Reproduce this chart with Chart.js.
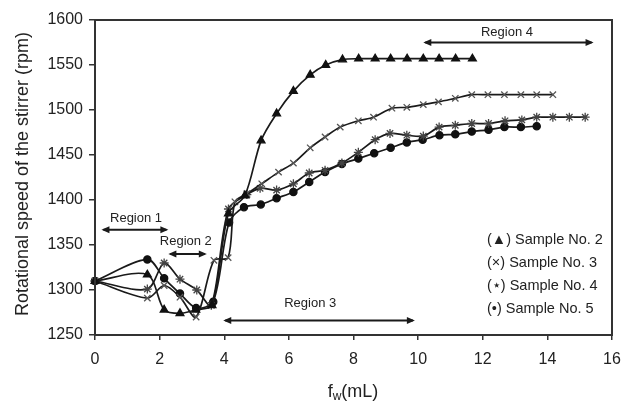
<!DOCTYPE html>
<html>
<head>
<meta charset="utf-8">
<script src="https://cdn.jsdelivr.net/npm/chart.js@4.4.1/dist/chart.umd.min.js"></script>
<style>
  html, body { margin: 0; padding: 0; background: #fff; }
  #chart-container { width: 626px; height: 411px; }
</style>
</head>
<body>
<div id="chart-container"><canvas id="stirrerChart" width="626" height="411"></canvas></div>
<script>
// Sample No. 2 (triangles)
const xNo2 = [0, 1.62, 2.14, 2.63, 3.12, 3.62, 4.13, 4.64, 5.14, 5.62, 6.14, 6.66, 7.14, 7.66, 8.16, 8.67, 9.15, 9.66, 10.16, 10.65, 11.16, 11.68];
const yNo2 = [1310, 1317, 1278, 1274, 1278, 1283, 1385, 1405, 1466, 1496, 1521, 1539, 1550, 1556, 1557, 1557, 1557, 1557, 1557, 1557, 1557, 1557];

// Sample No. 3 (crosses)
const xNo3 = [0, 1.62, 2.14, 2.63, 3.13, 3.68, 4.12, 4.33, 4.7, 5.16, 5.68, 6.14, 6.66, 7.12, 7.59, 8.15, 8.62, 9.19, 9.65, 10.16, 10.63, 11.15, 11.66, 12.16, 12.67, 13.18, 13.67, 14.17];
const yNo3 = [1310, 1291, 1305, 1292, 1270, 1333, 1336, 1398, 1407, 1418, 1431, 1441, 1458, 1470, 1481, 1488, 1492, 1502, 1503, 1506, 1509, 1513, 1517, 1517, 1517, 1517, 1517, 1517];

// Sample No. 4 (stars)
const xNo4 = [0, 1.62, 2.14, 2.63, 3.15, 3.6, 4.13, 4.7, 5.11, 5.62, 6.14, 6.63, 7.12, 7.64, 8.15, 8.67, 9.13, 9.65, 10.16, 10.65, 11.15, 11.66, 12.18, 12.69, 13.21, 13.67, 14.17, 14.68, 15.17];
const yNo4 = [1310, 1301, 1330, 1312, 1300, 1283, 1390, 1406, 1413, 1411, 1418, 1430, 1433, 1441, 1453, 1467, 1474, 1472, 1471, 1481, 1483, 1485, 1485, 1488, 1489, 1492, 1492, 1492, 1492];

// Sample No. 5 (circles)
const xNo5 = [0, 1.62, 2.14, 2.63, 3.13, 3.66, 4.15, 4.61, 5.13, 5.62, 6.14, 6.63, 7.12, 7.64, 8.15, 8.64, 9.15, 9.65, 10.14, 10.66, 11.15, 11.66, 12.18, 12.67, 13.18, 13.67];
const yNo5 = [1310, 1334, 1313, 1296, 1280, 1287, 1375, 1392, 1395, 1402, 1409, 1420, 1431, 1440, 1446, 1452, 1458, 1464, 1467, 1472, 1473, 1476, 1478, 1481, 1481, 1482];

// Region arrows: [label, xStart, xEnd, arrowY, labelX, labelY]
const regions = [
    ["Region 1", 0.2, 2.27, 1367, 1.27, 1380],
    ["Region 2", 2.27, 3.46, 1340, 2.81, 1354],
    ["Region 3", 3.97, 9.9, 1266, 6.66, 1285],
    ["Region 4", 10.16, 15.43, 1575, 12.75, 1586]
];

const legendLabels = ["(\u25B2) Sample No. 2", "(\u00D7) Sample No. 3", "(\u22C6) Sample No. 4", "(\u2022) Sample No. 5"];

const FONT = "'Liberation Sans', Arial, sans-serif";
const INK = "#1a1a1a";

function toPoints(xs, ys) {
    return xs.map((x, i) => ({ x: x, y: ys[i] }));
}

function drawArrow(ctx, x1, x2, y) {
    const head = 8, half = 3.5;
    ctx.beginPath();
    ctx.moveTo(x1 + 2, y);
    ctx.lineTo(x2 - 2, y);
    ctx.stroke();
    ctx.beginPath();
    ctx.moveTo(x1, y);
    ctx.lineTo(x1 + head, y - half);
    ctx.lineTo(x1 + head, y + half);
    ctx.closePath();
    ctx.fill();
    ctx.beginPath();
    ctx.moveTo(x2, y);
    ctx.lineTo(x2 - head, y - half);
    ctx.lineTo(x2 - head, y + half);
    ctx.closePath();
    ctx.fill();
}

// Frame, region arrows, legend text and axis titles
const decorPlugin = {
    id: "decor",
    afterDraw(chart) {
        const { ctx, chartArea, scales } = chart;
        const xs = scales.x, ys = scales.y;
        ctx.save();

        ctx.strokeStyle = "#333";
        ctx.lineWidth = 2;
        ctx.strokeRect(chartArea.left, chartArea.top, chartArea.right - chartArea.left, chartArea.bottom - chartArea.top);

        ctx.strokeStyle = INK;
        ctx.fillStyle = INK;
        ctx.lineWidth = 2;
        regions.forEach(r => {
            drawArrow(ctx, xs.getPixelForValue(r[1]), xs.getPixelForValue(r[2]), ys.getPixelForValue(r[3]));
        });
        ctx.fillStyle = "#222";
        ctx.font = "13px " + FONT;
        ctx.textAlign = "center";
        ctx.textBaseline = "middle";
        regions.forEach(r => {
            ctx.fillText(r[0], xs.getPixelForValue(r[4]), ys.getPixelForValue(r[5]));
        });

        // legend text
        ctx.font = "14.5px " + FONT;
        ctx.textAlign = "left";
        const legendTops = [240, 263, 286, 309];
        legendLabels.forEach((t, i) => ctx.fillText(t, 487, legendTops[i]));

        // y title
        ctx.save();
        ctx.translate(23, 174);
        ctx.rotate(-Math.PI / 2);
        ctx.font = "18px " + FONT;
        ctx.textAlign = "center";
        ctx.fillText("Rotational speed of the stirrer (rpm)", 0, 0);
        ctx.restore();

        // x title: f with subscript w
        ctx.font = "18px " + FONT;
        const fW = ctx.measureText("f").width;
        ctx.font = "12px " + FONT;
        const wW = ctx.measureText("w").width;
        ctx.font = "18px " + FONT;
        const restW = ctx.measureText("(mL)").width;
        let tx = 353 - (fW + wW + restW) / 2;
        ctx.textAlign = "left";
        ctx.fillText("f", tx, 392);
        tx += fW;
        ctx.font = "12px " + FONT;
        ctx.fillText("w", tx, 397);
        tx += wW;
        ctx.font = "18px " + FONT;
        ctx.fillText("(mL)", tx, 392);

        ctx.restore();
    }
};

function seriesStyle(style, radius, fill, stroke) {
    return {
        showLine: true,
        tension: 0.3,
        borderColor: INK,
        borderWidth: 1.7,
        pointStyle: style,
        pointRadius: radius,
        pointBackgroundColor: fill,
        pointBorderColor: stroke,
        pointBorderWidth: 1.3,
        clip: false
    };
}

const ctx = document.getElementById("stirrerChart").getContext("2d");

new Chart(ctx, {
    type: "line",
    data: {
        datasets: [
            Object.assign({ label: "Sample No. 2", data: toPoints(xNo2, yNo2) }, seriesStyle("triangle", 4.5, "#111", "#111")),
            Object.assign({ label: "Sample No. 3", data: toPoints(xNo3, yNo3) }, seriesStyle("crossRot", 4.5, "#555", "#555")),
            Object.assign({ label: "Sample No. 4", data: toPoints(xNo4, yNo4) }, seriesStyle("star", 4.5, "#444", "#444")),
            Object.assign({ label: "Sample No. 5", data: toPoints(xNo5, yNo5) }, seriesStyle("circle", 3.6, "#111", "#111"))
        ]
    },
    options: {
        responsive: false,
        animation: false,
        devicePixelRatio: 1,
        layout: { padding: { top: 20, right: 14, left: 0, bottom: 0 } },
        plugins: {
            legend: { display: false },
            tooltip: { enabled: false }
        },
        scales: {
            x: {
                type: "linear",
                min: 0,
                max: 16,
                ticks: { stepSize: 2, color: "#222", font: { size: 16, family: FONT }, padding: 10, maxRotation: 0, callback: v => String(v) },
                grid: { drawOnChartArea: false, drawTicks: true, tickLength: 5, color: "#333", lineWidth: 1.5 },
                border: { display: true, color: "#333", width: 2 },
                afterFit(scale) {
                    scale.height = 76;
                    scale.paddingLeft = 0;
                    scale.paddingRight = 0;
                }
            },
            y: {
                type: "linear",
                min: 1250,
                max: 1600,
                ticks: { stepSize: 50, color: "#222", font: { size: 16, family: FONT }, padding: 6, callback: v => String(v) },
                grid: { drawOnChartArea: false, drawTicks: true, tickLength: 6, color: "#333", lineWidth: 1.5 },
                border: { display: true, color: "#333", width: 2 },
                afterFit(scale) {
                    scale.width = 95;
                    scale.paddingTop = 0;
                    scale.paddingBottom = 0;
                }
            }
        }
    },
    plugins: [decorPlugin]
});
</script>
</body>
</html>
